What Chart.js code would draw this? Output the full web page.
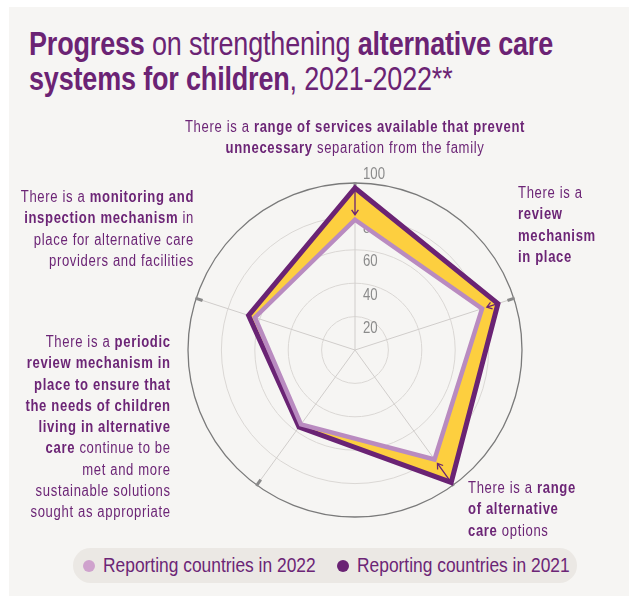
<!DOCTYPE html>
<html>
<head>
<meta charset="utf-8">
<script src="https://cdn.jsdelivr.net/npm/chart.js@4/dist/chart.umd.min.js"></script>
<style>
    body { margin: 0; background: #fff; width: 629px; height: 596px; overflow: hidden; position: relative; }
    #panel { position: absolute; left: 9px; top: 7px; width: 620px; height: 589px; background: #f6f5f3; }
    .sans { font-family: "Liberation Sans", Arial, sans-serif; }
    #title { position: absolute; left: 29px; top: 26px; font-size: 33px; line-height: 35px; color: #6b2374; letter-spacing: -0.2px; white-space: nowrap; transform-origin: left top; }
    #title b { font-weight: 700; }
    #wrap { position: absolute; left: 155px; top: 150px; width: 400px; height: 400px; }
    .axis-label { position: absolute; font-size: 16px; line-height: 21.3px; letter-spacing: 0.8px; color: #6c2576; white-space: nowrap; }
    .axis-label b { font-weight: 700; }
    #legend { position: absolute; left: 73px; top: 548px; width: 504px; height: 35px; border-radius: 18px; background: #ebe8e4; }
    .leg-item { position: absolute; top: 0; height: 35px; display: flex; align-items: center; font-size: 20px; color: #6c2576; white-space: nowrap; }
    .leg-dot { width: 12px; height: 12px; border-radius: 50%; margin-right: 8px; flex: none; }
    .leg-text { display: inline-block; transform-origin: left center; }
</style>
</head>
<body>
<div id="panel"></div>
<div id="title" class="sans"><b>Progress</b> on strengthening <b>alternative care</b><br><b>systems for children</b>, 2021-2022**</div>
<div id="wrap"><canvas id="radarChart" width="400" height="400"></canvas></div>
<div id="labels"></div>
<div id="legend" class="sans"></div>

<script>
// Axis texts, one entry per line, *...* marks the bold run
const categories = [
    ['There is a *range of services available that prevent*', '*unnecessary* separation from the family'],
    ['There is a', '*review*', '*mechanism*', '*in place*'],
    ['There is a *range*', '*of alternative*', '*care* options'],
    ['There is a *periodic*', '*review mechanism in*', '*place to ensure that*', '*the needs of children*',
     '*living in alternative*', '*care* continue to be', 'met and more', 'sustainable solutions', 'sought as appropriate'],
    ['There is a *monitoring and*', '*inspection mechanism* in', 'place for alternative care', 'providers and facilities']
];

const seriesNames = ['Reporting countries in 2022', 'Reporting countries in 2021'];
const values2022 = [78, 80, 81, 55, 63];
const values2021 = [97, 90, 98, 57, 67];
const tickValues = [20, 40, 60, 80, 100];

const darkPurple = '#6a2374';
const lightPurple = '#b98bc0';
const legendLight = '#cfa2cd';
const yellow = '#fdcf3f';

// condensed look: regular sans squeezed horizontally
const squeeze = 0.8;

// where each axis text block sits on the page
const labelBoxes = [
    { x: 355, top: 116, align: 'center' },
    { x: 518, top: 182, align: 'left' },
    { x: 468, top: 477, align: 'left' },
    { x: 171, top: 331, align: 'right' },
    { x: 194, top: 186, align: 'right' }
];

// title squeezed so the first line ends where the panel layout wants it
const titleEl = document.getElementById('title');
titleEl.style.transform = `scaleX(${524 / titleEl.offsetWidth})`;

const labelsEl = document.getElementById('labels');
const labelDivs = categories.map((lines, i) => {
    const box = labelBoxes[i];
    const div = document.createElement('div');
    div.className = 'axis-label sans';
    div.style.top = box.top + 'px';
    div.style.textAlign = box.align;
    if (box.align === 'left') div.style.left = box.x + 'px';
    else if (box.align === 'right') div.style.right = (629 - box.x) + 'px';
    else div.style.left = box.x + 'px';
    div.innerHTML = lines.map(l => l.replace(/\*(.*?)\*/g, '<b>$1</b>')).join('<br>');
    labelsEl.appendChild(div);
    return div;
});
const labelScale = 340 / labelDivs[0].offsetWidth;
labelDivs.forEach((div, i) => {
    const align = labelBoxes[i].align;
    if (align === 'center') {
        div.style.transformOrigin = 'left top';
        div.style.transform = `scaleX(${labelScale}) translateX(-50%)`;
    } else {
        div.style.transformOrigin = align + ' top';
        div.style.transform = `scaleX(${labelScale})`;
    }
});

const legendEl = document.getElementById('legend');
[legendLight, darkPurple].forEach((color, i) => {
    const item = document.createElement('div');
    item.className = 'leg-item';
    item.style.left = (i === 0 ? 10 : 264) + 'px';
    item.innerHTML = `<span class="leg-dot" style="background:${color}"></span><span class="leg-text">${seriesNames[i]}</span>`;
    legendEl.appendChild(item);
    const txt = item.querySelector('.leg-text');
    txt.style.transform = `scaleX(${213 / txt.offsetWidth})`;
});

// tick numbers beside the vertical axis plus short stubs on the outer ring
const ringDecor = {
    id: 'ringDecor',
    beforeDatasetsDraw(chart) {
        const scale = chart.scales.r;
        const ctx = chart.ctx;
        ctx.save();
        ctx.font = '16.5px "Liberation Sans", Arial, sans-serif';
        ctx.fillStyle = '#8b8b8b';
        ctx.textAlign = 'left';
        ctx.textBaseline = 'middle';
        tickValues.forEach(v => {
            const r = scale.getDistanceFromCenterForValue(v);
            const y = v === scale.max ? scale.yCenter - r - 9 : scale.yCenter - r + 12;
            ctx.save();
            ctx.translate(scale.xCenter + 8, y);
            ctx.scale(squeeze, 1);
            ctx.fillText(String(v), 0, 0);
            ctx.restore();
        });
        ctx.strokeStyle = '#8a8a8a';
        ctx.lineWidth = 3;
        categories.forEach((c, i) => {
            const a = scale.getPointPositionForValue(i, scale.max - 4);
            const b = scale.getPointPositionForValue(i, scale.max + 0.5);
            ctx.beginPath();
            ctx.moveTo(a.x, a.y);
            ctx.lineTo(b.x, b.y);
            ctx.stroke();
        });
        ctx.restore();
    }
};

// arrows showing the drop from 2021 to 2022
const dropArrows = {
    id: 'dropArrows',
    afterDatasetsDraw(chart) {
        const scale = chart.scales.r;
        const ctx = chart.ctx;
        ctx.save();
        ctx.strokeStyle = darkPurple;
        ctx.lineWidth = 1.3;
        values2021.forEach((v21, i) => {
            const v22 = values2022[i];
            if (v21 - v22 < 8) return;
            const p1 = scale.getPointPositionForValue(i, v21 - 1);
            const p2 = scale.getPointPositionForValue(i, v22 + 3);
            const ang = Math.atan2(p2.y - p1.y, p2.x - p1.x);
            ctx.beginPath();
            ctx.moveTo(p1.x, p1.y);
            ctx.lineTo(p2.x, p2.y);
            ctx.moveTo(p2.x - 6 * Math.cos(ang - 0.6), p2.y - 6 * Math.sin(ang - 0.6));
            ctx.lineTo(p2.x, p2.y);
            ctx.lineTo(p2.x - 6 * Math.cos(ang + 0.6), p2.y - 6 * Math.sin(ang + 0.6));
            ctx.stroke();
        });
        ctx.restore();
    }
};

const ctx = document.getElementById('radarChart').getContext('2d');
new Chart(ctx, {
    type: 'radar',
    data: {
        labels: categories.map(lines => lines.join(' ').replace(/\*/g, '')),
        datasets: [{
            label: seriesNames[0],
            data: values2022,
            borderColor: lightPurple,
            borderWidth: 4.5,
            borderJoinStyle: 'miter',
            pointRadius: 0,
            fill: false,
            clip: false
        }, {
            label: seriesNames[1],
            data: values2021,
            borderColor: darkPurple,
            backgroundColor: yellow,
            borderWidth: 5,
            borderJoinStyle: 'miter',
            pointRadius: 0,
            fill: '-1',
            clip: false
        }]
    },
    options: {
        responsive: false,
        animation: false,
        layout: { padding: 33 },
        plugins: {
            legend: { display: false },
            tooltip: { enabled: false }
        },
        scales: {
            r: {
                min: 0,
                max: 100,
                ticks: { display: false, stepSize: 20 },
                pointLabels: { display: false },
                grid: {
                    circular: true,
                    color: c => c.tick && c.tick.value === 100 ? '#7a7a7a' : '#dad7d4',
                    lineWidth: c => c.tick && c.tick.value === 100 ? 1.3 : 1
                },
                angleLines: { color: '#d0cdcb', lineWidth: 1 }
            }
        }
    },
    plugins: [ringDecor, dropArrows]
});
</script>
</body>
</html>
